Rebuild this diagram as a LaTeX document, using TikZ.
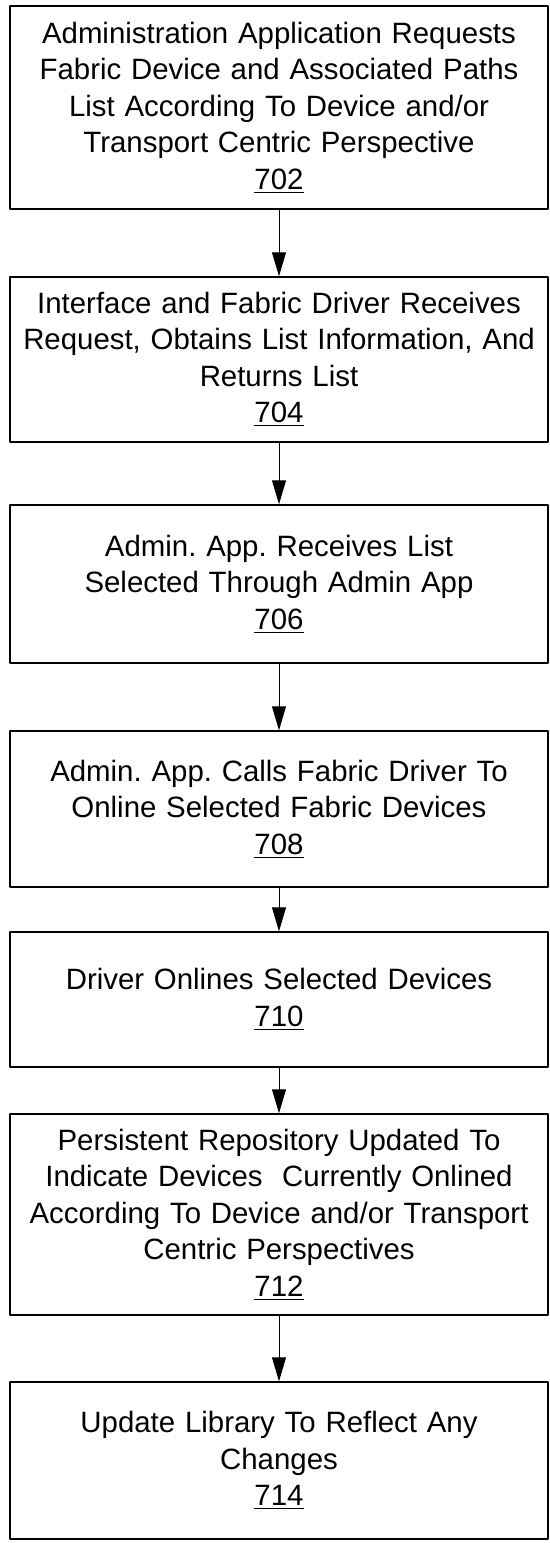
\documentclass[tikz,border=0pt]{standalone}
\usepackage{fontspec}
\setmainfont{Liberation Sans}
\usetikzlibrary{arrows.meta}
\frenchspacing
\begin{document}
\begin{tikzpicture}[x=0.5pt, y=-0.5pt, font=\fontsize{14.7pt}{18.25pt}\selectfont, line join=round, >={Triangle[length=12pt,width=7pt]}]
		\tikzset{stepbox/.style={draw, line width=0.75pt, minimum width=269pt, text width=267pt, align=center, inner sep=0pt}}
		\def\cx{279}
		\useasboundingbox (0,0) rectangle (550,1543);
		\node[stepbox, minimum height=101.5pt] (s702) at (\cx,107.5) {Administration Application Requests\\Fabric Device and Associated Paths\\List According To Device and/or\\Transport Centric Perspective\\\underline{702}};
		\node[stepbox, minimum height=82.5pt] (s704) at (\cx,359.5) {Interface and Fabric Driver Receives\\Request, Obtains List Information, And\\Returns List\\\underline{704}};
		\node[stepbox, minimum height=79pt] (s706) at (\cx,584) {Admin. App. Receives List\\Selected Through Admin App\\\underline{706}};
		\node[stepbox, minimum height=78pt] (s708) at (\cx,809) {Admin. App. Calls Fabric Driver To\\Online Selected Fabric Devices\\\underline{708}};
		\node[stepbox, minimum height=67.5pt] (s710) at (\cx,999.5) {Driver Onlines Selected Devices\\\underline{710}};
		\node[stepbox, minimum height=100.5pt] (s712) at (\cx,1214.5) {Persistent Repository Updated To\\Indicate Devices\ \ Currently Onlined\\According To Device and/or Transport\\Centric Perspectives\\\underline{712}};
		\node[stepbox, minimum height=78.5pt] (s714) at (\cx,1460.5) {Update Library To Reflect Any\\Changes\\\underline{714}};
		\foreach \a/\b in {s702/s704, s704/s706, s706/s708, s708/s710, s710/s712, s712/s714}
		\draw[->, line width=0.5pt] (\a) -- (\b);
		\end{tikzpicture}
\end{document}
